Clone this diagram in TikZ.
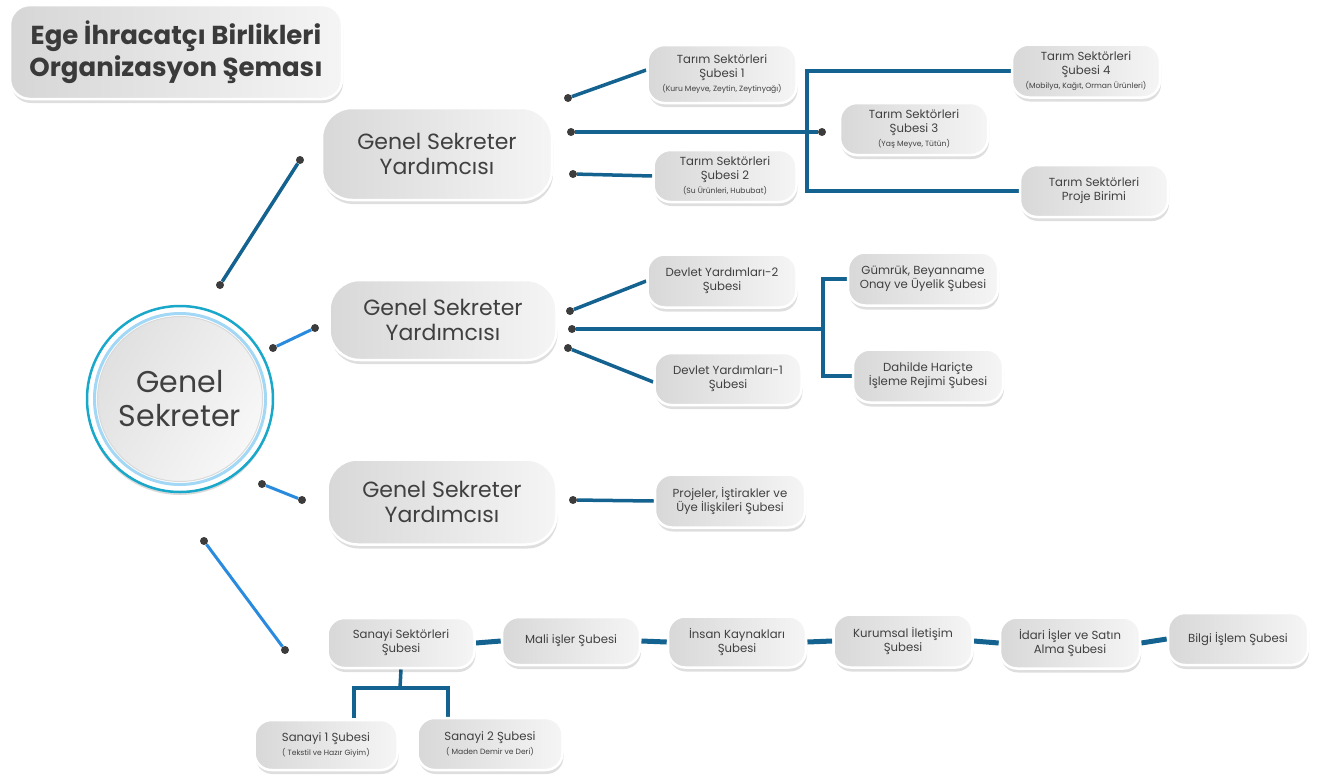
\documentclass[tikz,border=0pt]{standalone}
\usepackage{fontspec}
\setmainfont{Poppins}
\usetikzlibrary{shadows,backgrounds}
\definecolor{lineblue}{HTML}{14628F}
\definecolor{brightblue}{HTML}{2A8BDE}
\definecolor{dotgray}{HTML}{3C3C3C}
\definecolor{txt}{HTML}{404040}
\definecolor{boxL}{HTML}{D8D8D8}
\definecolor{boxR}{HTML}{F5F5F5}
\definecolor{ringcyan}{HTML}{19A8C9}
\definecolor{ringlight}{HTML}{A2D8F6}
\tikzset{
  box/.style={rounded corners=17pt, draw=white, line width=2.5pt, left color=boxL, right color=boxR,
    align=center, text=txt, inner sep=2pt, font=\fontsize{11.7}{14}\selectfont,
    drop shadow={shadow xshift=1pt, shadow yshift=-4pt, opacity=0.13, fill=black}},
  bigbox/.style={box, rounded corners=30pt, font=\fontsize{22}{25}\selectfont},
  dotn/.style={circle, fill=dotgray, inner sep=0pt, minimum size=8pt},
  conn/.style={draw=lineblue, line width=3.5pt},
  bconn/.style={draw=brightblue, line width=3pt},
  rowconn/.style={draw=lineblue, line width=5pt},
}
\newcommand{\subt}[1]{{\fontsize{7.6}{10}\selectfont #1}}
\begin{document}
\begin{tikzpicture}[x=1pt,y=-1pt]
\useasboundingbox (0,0) rectangle (1334,777);
% title
\node[box, rounded corners=20pt, minimum width=332pt, minimum height=94pt, left color=gray!32, right color=gray!8,
  font=\bfseries\fontsize{26}{32}\selectfont, text=txt!90!black] (title) at (176,52)
  {Ege İhracatçı Birlikleri\\Organizasyon Şeması};
% central circle
\node[circle, minimum size=186pt, draw=ringcyan, line width=2.5pt, fill=white, inner sep=0pt,
  drop shadow={shadow xshift=0pt, shadow yshift=-3pt, opacity=0.15, fill=black}] (gsring) at (180,399) {};
\node[circle, minimum size=171pt, draw=ringlight, line width=3pt, inner sep=0pt] (gsring2) at (180,399) {};
\node[circle, minimum size=165pt, inner sep=0pt, left color=gray!24, right color=gray!6, shading angle=60,
  draw=gray!30, line width=1pt, align=center, text=txt, font=\fontsize{30}{34}\selectfont] (gs) at (180,399) {Genel\\Sekreter};
% deputies
\node[bigbox, minimum width=230pt, minimum height=92pt] (y1) at (437,154) {Genel Sekreter\\Yardımcısı};
\node[bigbox, minimum width=227pt, minimum height=80pt] (y2) at (443,320) {Genel Sekreter\\Yardımcısı};
\node[bigbox, minimum width=229pt, minimum height=85pt] (y3) at (442,502) {Genel Sekreter\\Yardımcısı};
% level 2 boxes
\node[box, minimum width=149pt, minimum height=58pt] (t1) at (722,74) {Tarım Sektörleri\\Şubesi 1\\\subt{(Kuru Meyve, Zeytin, Zeytinyağı)}};
\node[box, minimum width=143pt, minimum height=52pt] (t2) at (725,176) {Tarım Sektörleri\\Şubesi 2\\\subt{(Su Ürünleri, Hububat)}};
\node[box, minimum width=148pt, minimum height=52pt] (t3) at (914,129) {Tarım Sektörleri\\Şubesi 3\\\subt{(Yaş Meyve, Tütün)}};
\node[box, minimum width=148pt, minimum height=53pt] (t4) at (1086,71) {Tarım Sektörleri\\Şubesi 4\\\subt{(Mobilya, Kağıt, Orman Ürünleri)}};
\node[box, minimum width=148pt, minimum height=52pt] (tp) at (1094,191) {Tarım Sektörleri\\Proje Birimi};
\node[box, minimum width=149pt, minimum height=53pt] (dv2) at (722,281) {Devlet Yardımları-2\\Şubesi};
\node[box, minimum width=147pt, minimum height=52pt] (dv1) at (728,379) {Devlet Yardımları-1\\Şubesi};
\node[box, minimum width=150pt, minimum height=53pt] (gm) at (923,279) {Gümrük, Beyanname\\Onay ve Üyelik Şubesi};
\node[box, minimum width=150pt, minimum height=53pt] (dh) at (928,376) {Dahilde Hariçte\\İşleme Rejimi Şubesi};
\node[box, minimum width=150pt, minimum height=53pt] (pr) at (730,501) {Projeler, İştirakler ve\\Üye İlişkileri Şubesi};
% bottom row
\node[box, minimum width=147pt, minimum height=50pt] (ss) at (401,643) {Sanayi Sektörleri\\Şubesi};
\node[box, minimum width=138pt, minimum height=48pt] (ml) at (571,641) {Mali işler Şubesi};
\node[box, minimum width=138pt, minimum height=51pt] (ik) at (737,642) {İnsan Kaynakları\\Şubesi};
\node[box, minimum width=139pt, minimum height=53pt] (kr) at (903,641) {Kurumsal İletişim\\Şubesi};
\node[box, minimum width=140pt, minimum height=51pt] (id) at (1070,643) {İdari İşler ve Satın\\Alma Şubesi};
\node[box, minimum width=140pt, minimum height=52pt] (bi) at (1238,639) {Bilgi İşlem Şubesi};
\node[box, minimum width=143pt, minimum height=50pt] (s1) at (326,745) {Sanayi 1 Şubesi\\\subt{( Tekstil ve Hazır Giyim)}};
\node[box, minimum width=145pt, minimum height=52pt] (s2) at (490,744) {Sanayi 2 Şubesi\\\subt{( Maden Demir ve Deri)}};
% dots
\node[dotn] (c1a) at (220,285) {};
\node[dotn] (c1b) at (300,160) {};
\node[dotn] (c2a) at (273,348) {};
\node[dotn] (c2b) at (315,328) {};
\node[dotn] (c3a) at (262,484) {};
\node[dotn] (c3b) at (302,500) {};
\node[dotn] (c4a) at (204,541) {};
\node[dotn] (c4b) at (285,650) {};
\node[dotn] (e1) at (568,98) {};
\node[dotn] (e2) at (571,132) {};
\node[dotn] (e3) at (573,174) {};
\node[dotn] (k3) at (822,132) {};
\node[dotn] (f1) at (570,311) {};
\node[dotn] (f2) at (572,329) {};
\node[dotn] (f3) at (568,348) {};
\node[dotn] (g1) at (573,500) {};
\coordinate (bus1) at (807,132);
\coordinate (bus2) at (823,329);
\coordinate (sj) at (400,688);
\coordinate (s1t) at (354,718);
\coordinate (s2t) at (448,718);
\begin{scope}[on background layer]
\draw[conn] (c1a) -- (c1b);
\draw[bconn] (c2a) -- (c2b);
\draw[bconn] (c3a) -- (c3b);
\draw[bconn] (c4a) -- (c4b);
\draw[conn] (e1) -- ([yshift=4pt]t1.west);
\draw[conn] (e2) -- (bus1);
\draw[conn] (e3) -- (t2.west);
\draw[conn] (t4.west) -| (bus1) |- (tp.west);
\draw[conn] (bus1) -- (k3);
\draw[conn] (f1) -- (dv2.west);
\draw[conn] (f2) -- (bus2);
\draw[conn] (f3) -- ([yshift=-3pt]dv1.west);
\draw[conn] (gm.west) -| (bus2) |- (dh.west);
\draw[conn] (g1) -- (pr.west);
\draw[conn] (ss.south) -- (sj);
\draw[conn] (s1t) |- (sj) -| (s2t);
\draw[rowconn] (ss.east) -- (ml.west);
\draw[rowconn] (ml.east) -- (ik.west);
\draw[rowconn] (ik.east) -- (kr.west);
\draw[rowconn] (kr.east) -- (id.west);
\draw[rowconn] (id.east) -- (bi.west);
\end{scope}
\end{tikzpicture}
\end{document}
